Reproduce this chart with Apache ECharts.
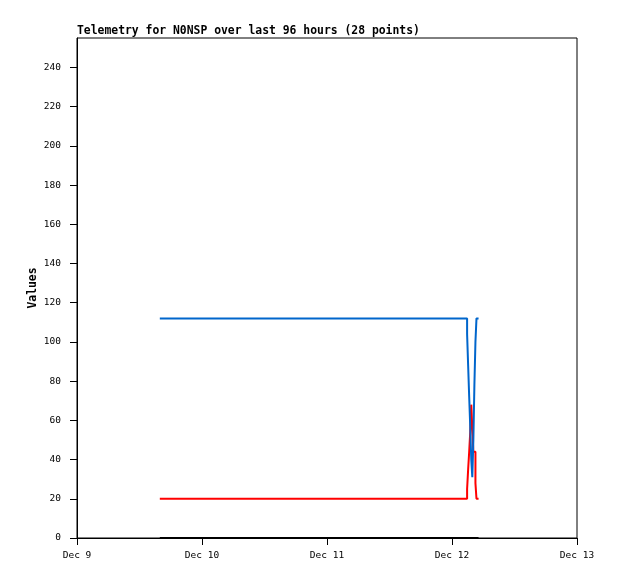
<!DOCTYPE html>
<html>
<head>
<meta charset="utf-8">
<script src="https://cdn.jsdelivr.net/npm/echarts@6/dist/echarts.min.js"></script>
<style>
html,body{margin:0;padding:0;background:#fff;}
#main{width:618px;height:579px;}
</style>
</head>
<body>
<div id="main"></div>
<script>
// hours since Dec 9 00:00
var hours = [15.9, 74.9, 75.1, 75.3, 75.5, 75.7, 75.9, 76.1, 76.3, 76.5, 76.7, 77.1];
var blueVals = [112, 104, 88, 72, 57, 40, 31, 50, 78, 100, 112, 112];
var redVals = [20, 25, 35, 44, 54, 68, 56, 44, 44, 28, 20, 20];
var blackVals = [0, 0, 0, 0, 0, 0, 0, 0, 0, 0, 0, 0];
var xTickLabels = ['Dec 9', 'Dec 10', 'Dec 11', 'Dec 12', 'Dec 13'];
var yTicks = [0, 20, 40, 60, 80, 100, 120, 140, 160, 180, 200, 220, 240];

function pairs(vals) {
	return hours.map(function(h, i) { return [h, vals[i]]; });
}

var myChart = echarts.init(document.getElementById('main'));
var font = 'DejaVu Sans Mono';
var option = {
	animation: false,
	title: {
		text: 'Telemetry for N0NSP over last 96 hours (28 points)',
		left: 77,
		top: 26,
		padding: 0,
		textStyle: { fontFamily: font, fontSize: 11.4, fontWeight: 'bold', color: '#000' }
	},
	grid: {
		left: 77, right: 41, top: 38, bottom: 41,
		show: true, borderColor: '#000', borderWidth: 1, backgroundColor: '#fff'
	},
	xAxis: {
		type: 'value',
		min: 0, max: 96, interval: 24,
		splitLine: { show: false },
		axisLine: { lineStyle: { color: '#000' } },
		axisTick: { length: 7, lineStyle: { color: '#000' } },
		axisLabel: {
			fontFamily: font, fontSize: 9.5, color: '#000', margin: 13,
			formatter: function(v) { return xTickLabels[Math.round(v / 24)]; }
		}
	},
	yAxis: {
		type: 'value',
		min: 0, max: 255,
		name: 'Values',
		nameLocation: 'middle',
		nameGap: 38,
		nameMoveOverlap: false,
		nameTextStyle: { fontFamily: font, fontSize: 11.4, fontWeight: 'bold', color: '#000' },
		splitLine: { show: false },
		axisLine: { show: true, lineStyle: { color: '#000' } },
		axisTick: { show: true, length: 7, customValues: yTicks, lineStyle: { color: '#000' } },
		axisLabel: { fontFamily: font, fontSize: 9.5, color: '#000', margin: 16, customValues: yTicks }
	},
	series: [{
		type: 'line', step: 'end', data: pairs(blackVals), showSymbol: false,
		lineStyle: { color: '#000', width: 2 }
	}, {
		type: 'line', step: 'end', data: pairs(redVals), showSymbol: false,
		lineStyle: { color: '#ff0000', width: 2 }
	}, {
		type: 'line', step: 'end', data: pairs(blueVals), showSymbol: false,
		lineStyle: { color: '#0066cc', width: 2 }
	}]
};
myChart.setOption(option);
</script>
</body>
</html>
